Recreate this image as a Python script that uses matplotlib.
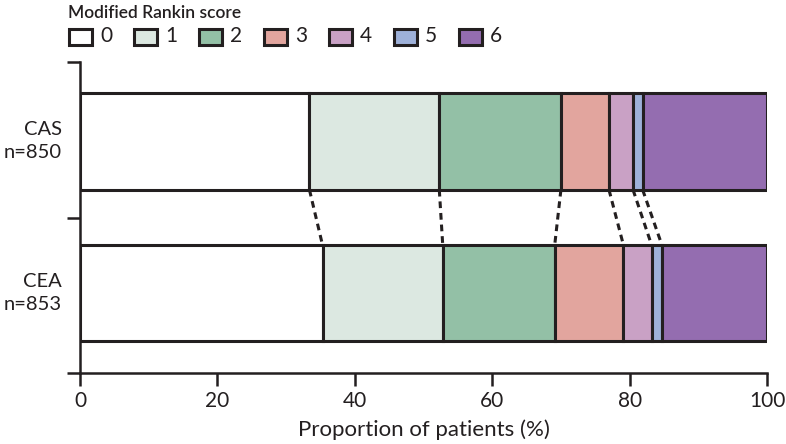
import matplotlib
matplotlib.use("Agg")
import matplotlib.pyplot as plt
from matplotlib.patches import Rectangle

plt.rcParams['font.family'] = ['Lato', 'DejaVu Sans']

# modified Rankin score distribution (% of patients)
scores = ['0', '1', '2', '3', '4', '5', '6']
groups = ['CAS\nn=850', 'CEA\nn=853']
cas = [33.4, 18.9, 17.7, 7.0, 3.5, 1.4, 18.1]
cea = [35.3, 17.5, 16.3, 10.0, 4.1, 1.5, 15.3]
colors = ['#ffffff', '#dce8e1', '#93c0a6', '#e2a59e', '#c9a1c5', '#9eb1d9', '#946db0']

W, H = 786, 444
fig = plt.figure(figsize=(W / 100, H / 100), dpi=100)
ax = fig.add_axes([80 / W, 1 - 373.3 / H, 687 / W, 311 / H])

ypos = [1.49, 0.515]
height = 0.62
lw = 2.2
ink = '#231f20'

for y, vals in zip(ypos, [cas, cea]):
    left = 0
    for v, c in zip(vals, colors):
        ax.barh(y, v, left=left, height=height, color=c, edgecolor=ink,
                linewidth=lw, zorder=3)
        left += v

# dashed lines linking the category boundaries between the two bars
cum_top, cum_bot = 0, 0
for a, b in zip(cas[:-1], cea[:-1]):
    cum_top += a
    cum_bot += b
    ax.plot([cum_top, cum_bot], [ypos[0] - height / 2, ypos[1] + height / 2],
            color=ink, ls=(0, (2.2, 1.6)), lw=2.2, zorder=2,
            solid_capstyle='butt')

ax.set_xlim(0, 100)
ax.set_ylim(0, 2)
ax.set_xticks([0, 20, 40, 60, 80, 100])
ax.set_yticks([0, 1, 2])
ax.set_yticklabels([])
# group labels sit a little above the bar centres in the original
ax.set_yticks([y + 0.03 for y in ypos], minor=True)
ax.set_yticklabels(groups, minor=True, fontsize=14.5, ha='right',
                   linespacing=1.4, color=ink)
ax.tick_params(axis='y', which='minor', length=0, pad=13)
ax.tick_params(axis='y', which='major', length=9.5, width=1.8, color=ink)
ax.tick_params(axis='x', length=9.5, width=1.8, color=ink,
               labelsize=15, labelcolor=ink, pad=3)
for side in ['top', 'right']:
    ax.spines[side].set_visible(False)
for side in ['left', 'bottom']:
    ax.spines[side].set_linewidth(1.8)
    ax.spines[side].set_color(ink)
ax.set_xlabel('Proportion of patients (%)', fontsize=16, color=ink,
              labelpad=6)

# legend drawn by hand in pixel coordinates
fig.text(68 / W, 1 - 13 / H, 'Modified Rankin score', fontsize=12.5,
         fontweight='semibold', va='center', ha='left', color=ink)
for i, (s, c) in enumerate(zip(scores, colors)):
    x0 = 69 + 65 * i
    fig.add_artist(Rectangle((x0 / W, 1 - 45 / H), 23 / W, 16 / H,
                             transform=fig.transFigure, facecolor=c,
                             edgecolor=ink, linewidth=2.2))
    fig.text((x0 + 31) / W, 1 - 36 / H, s, fontsize=15, va='center',
             ha='left', color=ink)

fig.savefig('out.png', dpi=100)
